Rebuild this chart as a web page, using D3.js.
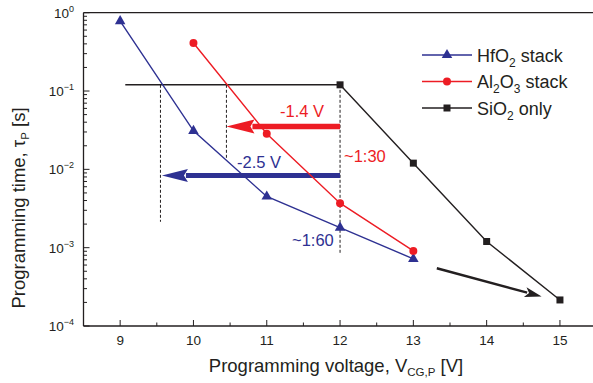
<!DOCTYPE html>
<html>
<head>
<meta charset="utf-8">
<script src="https://cdn.jsdelivr.net/npm/d3@7"></script>
<style>
  body { margin: 0; background: #fff; }
  svg { display: block; font-family: "Liberation Sans", Arial, sans-serif; }
</style>
</head>
<body>
<div id="grafico"></div>
<script>
// tiempo de programacion vs voltaje, eje y logaritmico

var voltajes = [9, 10, 11, 12, 13, 14, 15];
var hfo2 = [[9, 0.78], [10, 0.031], [11, 0.0045], [12, 0.0018], [13, 0.00072]];
var al2o3 = [[10, 0.41], [11, 0.0285], [12, 0.0037], [13, 0.00091]];
var sio2 = [[12, 0.12], [13, 0.012], [14, 0.0012], [15, 0.000215]];
var decadas = [0, -1, -2, -3, -4];

// lineas guia: horizontal y punteadas (en unidades de datos)
var guiaHorizontal = [[9.07, 0.12], [12, 0.12]];
var punteadas = [[9.55, 0.12, 0.00214], [10.45, 0.12, 0.0133], [12, 0.12, 0.00086]];
// flechas: desde [v, t] hasta [v, t]
var flechaRoja = [[12, 0.0353], [10.45, 0.0353]];
var flechaAzul = [[12, 0.00836], [9.57, 0.00836]];
var flechaNegra = [[13.32, 0.000546], [14.75, 0.000238]];

var AZUL = "#2e3192", ROJO = "#ed1c24", NEGRO = "#231f20";

var ancho = 593, alto = 383;
var margen = { left: 83.5, top: 12.7, bottom: 326 };

var x = d3.scaleLinear().domain([8.5, 15.5]).range([margen.left, margen.left + 7 * 73.3]);
var y = d3.scaleLog().domain([1e-4, 1]).range([margen.bottom, margen.top]);

var svg = d3.select("#grafico").append("svg").attr("width", ancho).attr("height", alto);

// marco
svg.append("line").attr("x1", x(8.5)).attr("x2", x(15.5)).attr("y1", y(1)).attr("y2", y(1))
  .attr("stroke", NEGRO).attr("stroke-width", 1.3);
svg.append("line").attr("x1", x(8.5)).attr("x2", x(15.5)).attr("y1", y(1e-4)).attr("y2", y(1e-4))
  .attr("stroke", NEGRO).attr("stroke-width", 1.3);
svg.append("line").attr("x1", x(8.5)).attr("x2", x(8.5)).attr("y1", y(1)).attr("y2", y(1e-4))
  .attr("stroke", NEGRO).attr("stroke-width", 1.3);

// ticks x hacia adentro
var ticksX = [];
for (var v = 9; v <= 15.5; v += 0.5) ticksX.push(v);
svg.selectAll("line.tx").data(ticksX).enter().append("line")
  .attr("x1", function (d) { return x(d); }).attr("x2", function (d) { return x(d); })
  .attr("y1", y(1e-4)).attr("y2", function (d) { return y(1e-4) - (d % 1 === 0 ? 6 : 3.5); })
  .attr("stroke", NEGRO).attr("stroke-width", 1);
svg.selectAll("text.tx").data(voltajes).enter().append("text")
  .attr("x", function (d) { return x(d); }).attr("y", 345)
  .attr("text-anchor", "middle").attr("font-size", 13.5).attr("fill", NEGRO)
  .text(function (d) { return d; });

// ticks y (log), mayores y menores
var ticksY = y.ticks();
svg.selectAll("line.ty").data(ticksY).enter().append("line")
  .attr("x1", x(8.5)).attr("x2", function (d) {
    var m = d / Math.pow(10, Math.floor(Math.log10(d) + 1e-9));
    return x(8.5) + (Math.abs(m - 1) < 1e-6 ? 6 : 3.5);
  })
  .attr("y1", function (d) { return y(d); }).attr("y2", function (d) { return y(d); })
  .attr("stroke", NEGRO).attr("stroke-width", 1);

var etY = svg.selectAll("text.ty").data(decadas).enter().append("text")
  .attr("x", 74).attr("y", function (d) { return y(Math.pow(10, d)) + 5; })
  .attr("text-anchor", "end").attr("font-size", 13.5).attr("fill", NEGRO);
etY.append("tspan").text("10");
etY.append("tspan").attr("dy", -6).attr("font-size", 9).text(function (d) { return d === 0 ? "0" : "\u2212" + (-d); });

// titulos de ejes
var tx = svg.append("text").attr("x", 336).attr("y", 372).attr("text-anchor", "middle")
  .attr("font-size", 18.5).attr("fill", NEGRO);
tx.append("tspan").text("Programming voltage, V");
tx.append("tspan").attr("dy", 4).attr("font-size", 11.5).text("CG,P");
tx.append("tspan").attr("dy", -4).text(" [V]");

var ty = svg.append("text").attr("transform", "translate(25,208) rotate(-90)").attr("text-anchor", "middle")
  .attr("font-size", 18.5).attr("fill", NEGRO);
ty.append("tspan").text("Programming time, \u03c4");
ty.append("tspan").attr("dy", 4).attr("font-size", 11.5).text("P");
ty.append("tspan").attr("dy", -4).text(" [s]");

// guias
var linea = d3.line().x(function (d) { return x(d[0]); }).y(function (d) { return y(d[1]); });
svg.append("path").attr("d", linea(guiaHorizontal)).attr("stroke", NEGRO).attr("stroke-width", 1.5).attr("fill", "none");
svg.selectAll("line.dash").data(punteadas).enter().append("line")
  .attr("x1", function (d) { return x(d[0]); }).attr("x2", function (d) { return x(d[0]); })
  .attr("y1", function (d) { return y(d[1]); }).attr("y2", function (d) { return y(d[2]); })
  .attr("stroke", NEGRO).attr("stroke-width", 1).attr("stroke-dasharray", "3,2");

// flechas
function flecha(puntos, color, grosor, largoPunta, anchoPunta) {
  var x0 = x(puntos[0][0]), y0 = y(puntos[0][1]), x1 = x(puntos[1][0]), y1 = y(puntos[1][1]);
  var ang = Math.atan2(y1 - y0, x1 - x0);
  var bx = x1 - largoPunta * Math.cos(ang), by = y1 - largoPunta * Math.sin(ang);
  svg.append("line").attr("x1", x0).attr("y1", y0).attr("x2", bx + 2 * Math.cos(ang)).attr("y2", by + 2 * Math.sin(ang))
    .attr("stroke", color).attr("stroke-width", grosor);
  var px = -Math.sin(ang), py = Math.cos(ang);
  var punta = [[x1, y1],
    [bx + px * anchoPunta, by + py * anchoPunta],
    [bx + 4 * Math.cos(ang), by + 4 * Math.sin(ang)],
    [bx - px * anchoPunta, by - py * anchoPunta]];
  svg.append("polygon").attr("points", punta.map(function (p) { return p.join(","); }).join(" ")).attr("fill", color);
}
flecha(flechaRoja, ROJO, 5.5, 28, 7);
flecha(flechaAzul, AZUL, 5, 26, 6.5);
flecha(flechaNegra, NEGRO, 2.5, 17, 5);

// series
var series = [
  { datos: hfo2, color: AZUL, forma: d3.symbolTriangle, tam: 48, nombre: ["HfO", "2", " stack"] },
  { datos: al2o3, color: ROJO, forma: d3.symbolCircle, tam: 50, nombre: ["Al", "2", "O", "3", " stack"] },
  { datos: sio2, color: NEGRO, forma: d3.symbolSquare, tam: 49, nombre: ["SiO", "2", " only"] }
];

series.forEach(function (s) {
  svg.append("path").attr("d", linea(s.datos)).attr("stroke", s.color).attr("stroke-width", 1.4).attr("fill", "none");
  svg.selectAll(null).data(s.datos).enter().append("path")
    .attr("d", d3.symbol().type(s.forma).size(s.tam))
    .attr("transform", function (d) { return "translate(" + x(d[0]) + "," + y(d[1]) + ")"; })
    .attr("fill", s.color);
});

// leyenda
series.forEach(function (s, i) {
  var ly = 55 + i * 26.5;
  svg.append("line").attr("x1", 422).attr("x2", 472).attr("y1", ly).attr("y2", ly)
    .attr("stroke", s.color).attr("stroke-width", 1.4);
  svg.append("path").attr("d", d3.symbol().type(s.forma).size(s.tam))
    .attr("transform", "translate(447," + ly + ")").attr("fill", s.color);
  var t = svg.append("text").attr("x", 477).attr("y", ly + 6.5).attr("font-size", 18).attr("fill", NEGRO);
  s.nombre.forEach(function (parte, k) {
    var sub = k % 2 === 1;
    t.append("tspan").attr("font-size", sub ? 12 : 18)
      .attr("dy", k === 0 ? 0 : (sub ? 5 : -5)).text(parte);
  });
});

// textos de anotacion
function nota(texto, px, py, color) {
  svg.append("text").attr("x", px).attr("y", py).attr("font-size", 16.5).attr("fill", color).text(texto);
}
nota("-1.4 V", 280, 117, ROJO);
nota("-2.5 V", 237, 168, AZUL);
nota("~1:30", 344, 162, ROJO);
nota("~1:60", 292, 246, AZUL);
</script>
</body>
</html>
